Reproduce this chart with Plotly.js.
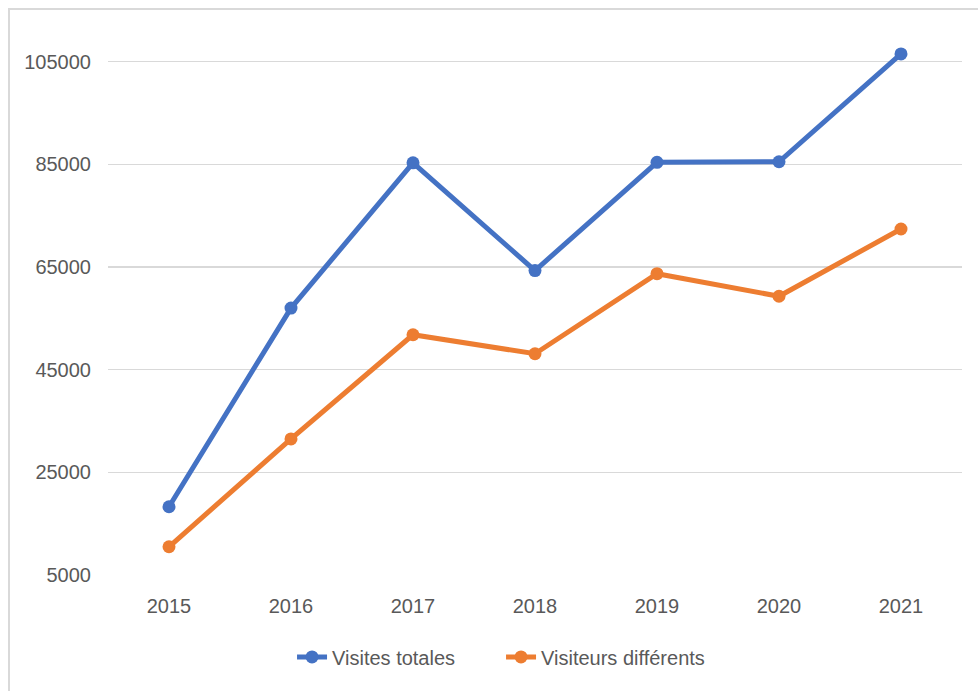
<!DOCTYPE html>
<html>
<head>
<meta charset="utf-8">
<script src="https://cdn.plot.ly/plotly-3.0.1.min.js"></script>
<style>
  html, body { margin: 0; padding: 0; background: #fff; }
  #wrap { position: relative; width: 978px; height: 691px; overflow: hidden; }
  #chart { width: 978px; height: 691px; }
  #frame { position: absolute; left: 8px; top: 8px; width: 1000px; height: 720px;
           border-left: 2px solid #d9d9d9; border-top: 2px solid #d9d9d9; pointer-events: none; }
</style>
</head>
<body>
<div id="wrap">
  <div id="chart"></div>
  <div id="frame"></div>
</div>
<script>
const years = ['2015', '2016', '2017', '2018', '2019', '2020', '2021'];
const visitesTotales = [18300, 57000, 85300, 64300, 85400, 85500, 106500];
const visiteursDifferents = [10500, 31500, 51800, 48100, 63700, 59300, 72400];
const yTicks = [5000, 25000, 45000, 65000, 85000, 105000];

const traces = [
  {
    x: years, y: visitesTotales, name: 'Visites totales',
    type: 'scatter', mode: 'lines+markers',
    line: { color: '#4472C4', width: 5 },
    marker: { color: '#4472C4', size: 13 }
  },
  {
    x: years, y: visiteursDifferents, name: 'Visiteurs différents',
    type: 'scatter', mode: 'lines+markers',
    line: { color: '#ED7D31', width: 5 },
    marker: { color: '#ED7D31', size: 13 }
  }
];

const layout = {
  width: 978, height: 691,
  margin: { l: 108, r: 16, t: 36, b: 116 },
  paper_bgcolor: '#ffffff', plot_bgcolor: '#ffffff',
  font: { family: 'Liberation Sans, Arial, sans-serif', size: 20, color: '#595959' },
  showlegend: true,
  legend: {
    orientation: 'h', x: 0.2155, xanchor: 'left', y: -0.152, yanchor: 'middle',
    entrywidth: 164, entrywidthmode: 'pixels',
    font: { size: 20, color: '#595959' }
  },
  xaxis: {
    type: 'category', range: [-0.5, 6.5], autorange: false,
    showgrid: false, zeroline: false, automargin: false,
    showline: false, ticks: '', tickfont: { size: 20, color: '#595959' },
    ticklabelstandoff: 17
  },
  yaxis: {
    range: [5000, 110000], autorange: false, tickvals: yTicks, ticktext: yTicks.map(String),
    showgrid: true, gridcolor: '#d9d9d9', gridwidth: 1.5, automargin: false,
    zeroline: false, showline: false, ticks: '',
    tickfont: { size: 20, color: '#595959' }, ticklabelstandoff: 16
  }
};

Plotly.newPlot('chart', traces, layout, { displayModeBar: false, staticPlot: true });
</script>
</body>
</html>
